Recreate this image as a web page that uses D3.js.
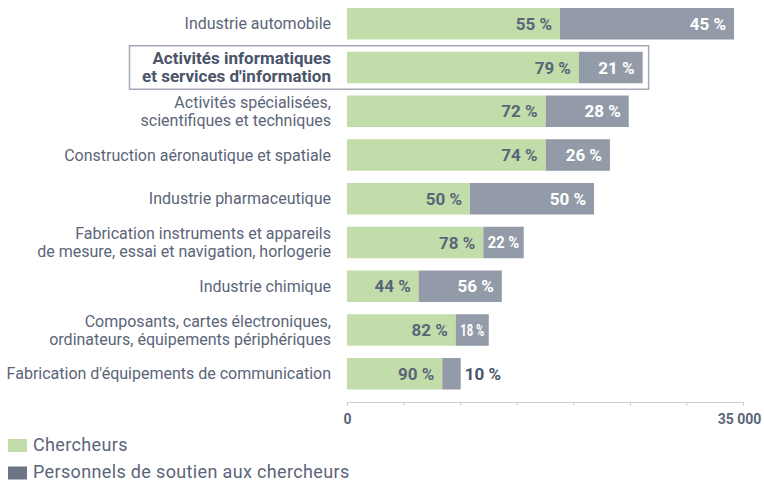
<!DOCTYPE html>
<html>
<head>
<meta charset="utf-8">
<script src="https://cdn.jsdelivr.net/npm/d3@7"></script>
<style>
body{margin:0;background:#fff;}
svg{display:block;}
text{font-family:"Roboto",sans-serif;}
</style>
</head>
<body>
<svg width="764" height="481"></svg>
<script>
// secteurs (de haut en bas)
var secteurs=[
 ["Industrie automobile"],
 ["Activités informatiques","et services d'information"],
 ["Activités spécialisées,","scientifiques et techniques"],
 ["Construction aéronautique et spatiale"],
 ["Industrie pharmaceutique"],
 ["Fabrication instruments et appareils","de mesure, essai et navigation, horlogerie"],
 ["Industrie chimique"],
 ["Composants, cartes électroniques,","ordinateurs, équipements périphériques"],
 ["Fabrication d'équipements de communication"]
];
var chercheurs=[18830,20500,17560,17560,10870,12050,6340,9610,8420];
var soutien=[15380,5630,7340,5680,10960,3570,7340,2920,1630];
var pctChercheurs=["55 %","79 %","72 %","74 %","50 %","78 %","44 %","82 %","90 %"];
var pctSoutien=["45 %","21 %","28 %","26 %","50 %","22 %","56 %","18 %","10 %"];
var ticks=[0,5000,10000,15000,20000,25000,30000,35000];
var highlight=1;

var green="#c2ddaa", grey="#939ba8", textcol="#5b6579";

var svg=d3.select("svg");

var x=d3.scaleLinear().domain([0,35000]).range([347,743]);
var y=d3.scaleBand().domain(d3.range(secteurs.length)).range([8,389.5]).paddingInner(0.28).paddingOuter(0);
var bw=y.bandwidth();

// boite autour du secteur mis en avant
var hx=x(chercheurs[highlight]+soutien[highlight]);
svg.append("rect")
 .attr("x",129.5).attr("y",y(highlight)-6)
 .attr("width",hx+6-129.5).attr("height",bw+12)
 .attr("fill","none").attr("stroke","#a3aab5").attr("stroke-width",1.5);

var rows=svg.selectAll("g.row").data(d3.range(secteurs.length)).enter()
 .append("g").attr("class","row");

rows.append("rect")
 .attr("x",x(0)).attr("y",i=>y(i))
 .attr("width",i=>x(chercheurs[i])-x(0)).attr("height",bw)
 .attr("fill",green);

rows.append("rect")
 .attr("x",i=>x(chercheurs[i])).attr("y",i=>y(i))
 .attr("width",i=>x(chercheurs[i]+soutien[i])-x(chercheurs[i])).attr("height",bw)
 .attr("fill",grey);

// pourcentages chercheurs
rows.append("text")
 .attr("x",i=>x(chercheurs[i])-8).attr("y",i=>y(i)+bw/2)
 .attr("dy","0.36em").attr("text-anchor","end")
 .attr("font-size",17).attr("font-weight","bold").attr("fill",textcol)
 .text(i=>pctChercheurs[i]);

// pourcentages soutien
rows.append("text")
 .each(function(i){
   var t=d3.select(this);
   var x0=x(chercheurs[i]), x1=x(chercheurs[i]+soutien[i]), w=x1-x0;
   t.attr("y",y(i)+bw/2).attr("dy","0.36em")
    .attr("font-size",17).attr("font-weight","bold");
   if(w<25){
     t.attr("x",x1+4).attr("text-anchor","start").attr("fill","#4b5569");
   }else if(w<45){
     t.attr("x",(x0+x1)/2).attr("text-anchor","middle").attr("fill","#fff")
      .attr("font-size",16).attr("textLength",w-9).attr("lengthAdjust","spacingAndGlyphs");
   }else{
     t.attr("x",x1-8).attr("text-anchor","end").attr("fill","#fff");
   }
 })
 .text(i=>pctSoutien[i]);

// libelles
rows.append("text")
 .attr("text-anchor","end")
 .attr("font-size",i=>i===highlight?17:16)
 .attr("font-weight",i=>i===highlight?"bold":"normal")
 .attr("fill",i=>i===highlight?"#4b5569":textcol)
 .each(function(i){
   var lines=secteurs[i], t=d3.select(this);
   var cy=y(i)+bw/2-(lines.length-1)*9;
   lines.forEach(function(l,k){
     t.append("tspan").attr("x",331).attr("y",cy+k*18).attr("dy","0.35em").text(l);
   });
 });

// axe
var axis=d3.axisBottom(x).tickValues(ticks).tickSize(4).tickSizeOuter(0)
 .tickFormat(d=>d===0?"0":d===35000?"35 000":"");
var ga=svg.append("g").attr("transform","translate(0,402)").call(axis);
ga.select(".domain").attr("stroke","#c9cdd4");
ga.selectAll(".tick line").attr("stroke","#c9cdd4");
ga.selectAll(".tick text").attr("font-size",14).attr("font-weight","bold")
 .attr("fill",textcol).attr("dy","1.05em")
 .attr("font-family","Roboto,sans-serif");
ga.selectAll(".tick text").filter(d=>d===35000).attr("dx",-4);

// legende
var legend=[["Chercheurs",green],["Personnels de soutien aux chercheurs","#6c7486"]];
var lg=svg.selectAll("g.leg").data(legend).enter().append("g")
 .attr("transform",(d,i)=>"translate(8,"+(439+i*27.5)+")");
lg.append("rect").attr("width",19).attr("height",13).attr("fill",d=>d[1]);
lg.append("text").attr("x",25).attr("y",11.5)
 .attr("font-size",18).attr("letter-spacing",0.35).attr("fill",textcol)
 .attr("font-family","Liberation Sans,Arial,sans-serif")
 .text(d=>d[0]);
</script>
</body>
</html>
